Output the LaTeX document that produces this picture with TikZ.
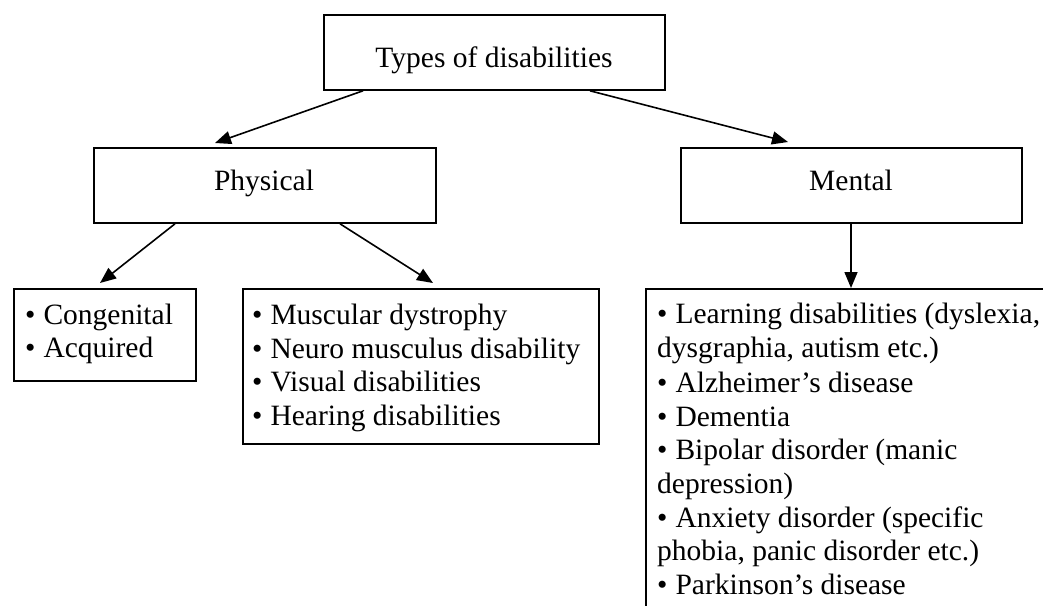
\documentclass[tikz,border=0pt]{standalone}
\usepackage{fontspec}
\setmainfont{Liberation Serif}
\usetikzlibrary{arrows.meta,calc}
\newcommand\bul{•\hspace{8pt}}
\begin{document}
\begin{tikzpicture}[x=1pt,y=-1pt,
 box/.style={draw,line width=1.8pt,rectangle,inner sep=0pt,anchor=north west},
 txt/.style={anchor=base west,inner sep=0pt,font=\fontsize{29.5}{34}\selectfont},
 ctr/.style={anchor=base,inner sep=0pt,font=\fontsize{29.5}{34}\selectfont},
 arr/.style={line width=1.6pt,-{Triangle[length=16pt,width=13pt]}}]
\useasboundingbox (0,0) rectangle (1043,605);
\clip (0,0) rectangle (1043,605);
% boxes
\node[box,minimum width=341pt,minimum height=75pt] (top) at (323,14) {};
\node[box,minimum width=342pt,minimum height=75pt] (phys) at (93,147) {};
\node[box,minimum width=341pt,minimum height=75pt] (ment) at (680,147) {};
\node[box,minimum width=182pt,minimum height=92pt] (cong) at (13,288) {};
\node[box,minimum width=356pt,minimum height=155pt] (musc) at (242,288) {};
\node[box,minimum width=420pt,minimum height=340pt] (mlist) at (645,288) {};
% titles
\node[ctr] (ttop) at (494,67) {Types of disabilities};
\node[ctr] (tphys) at (264,190) {Physical};
\node[ctr] (tment) at (851,190) {Mental};
% lists
\node[txt] (c1) at (25,324) {\bul Congenital};
\node[txt] (c2) at (25,357) {\bul Acquired};
\node[txt] (m1) at (252,324) {\bul Muscular dystrophy};
\node[txt] (m2) at (252,358) {\bul Neuro musculus disability};
\node[txt] (m3) at (252,391) {\bul Visual disabilities};
\node[txt] (m4) at (252,425) {\bul Hearing disabilities};
\node[txt] (n1) at (657,323) {\bul Learning disabilities (dyslexia,};
\node[txt] (n2) at (657,357) {dysgraphia, autism etc.)};
\node[txt] (n3) at (657,392) {\bul Alzheimer’s disease};
\node[txt] (n4) at (657,426) {\bul Dementia};
\node[txt] (n5) at (657,459) {\bul Bipolar disorder (manic};
\node[txt] (n6) at (657,493) {depression)};
\node[txt] (n7) at (657,527) {\bul Anxiety disorder (specific};
\node[txt] (n8) at (657,560) {phobia, panic disorder etc.)};
\node[txt] (n9) at (657,594) {\bul Parkinson’s disease};
% connectors
\draw[arr] ($(top.south west)+(40,0)$) -- ($(phys.north west)+(122,-4)$);
\draw[arr] ($(top.south west)+(267,0)$) -- ($(ment.north west)+(108,-5)$);
\draw[arr] ($(phys.south west)+(82,0)$) -- ($(cong.north west)+(87,-5)$);
\draw[arr] ($(phys.south west)+(247,0)$) -- ($(musc.north west)+(191,-5)$);
\draw[arr] ($(ment.south west)+(171,0)$) -- ($(mlist.north west)+(206,0)$);
\end{tikzpicture}
\end{document}
